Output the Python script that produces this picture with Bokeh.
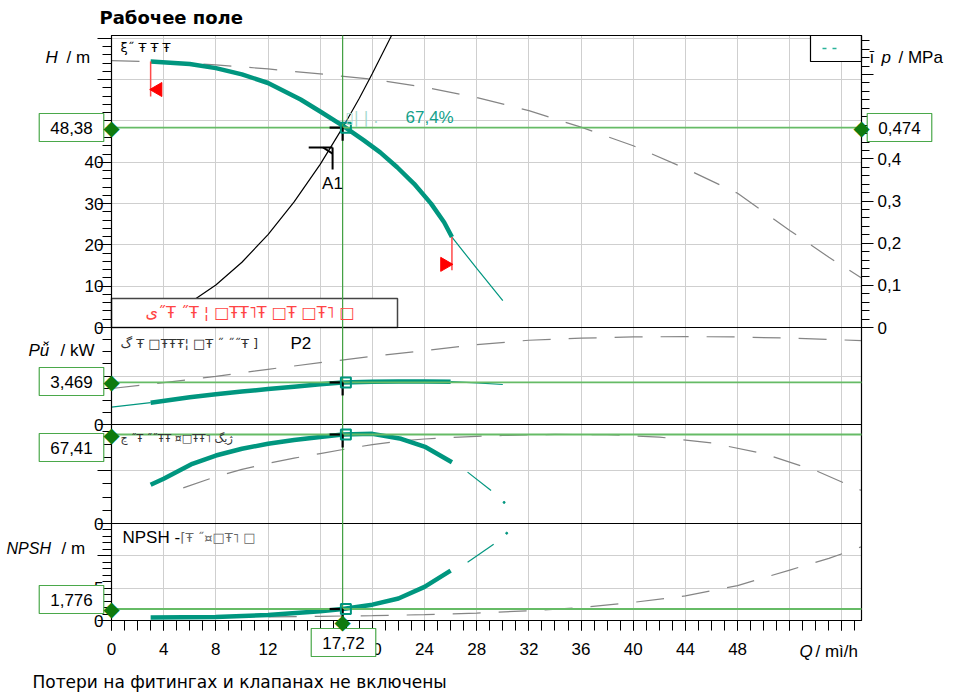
from bokeh.plotting import figure
from bokeh.models import Range1d, LinearAxis, FixedTicker, Label, Grid
from bokeh.embed import file_html
from bokeh.resources import INLINE

# ---------------- data ----------------
Q_OP, H_OP, DP_OP, P_OP, ETA_OP, NPSH_OP = 17.72, 48.38, 0.474, 3.469, 67.41, 1.776
ETA_LABEL = "67,4%"

q_head = [3, 6, 8, 10, 12, 14.5, 16, 17.72, 19.35, 20.6, 21.9, 23.2, 24.5, 25.5, 26.1]
head = [64.4, 63.8, 62.8, 61.3, 59.2, 55.2, 52.3, 48.9, 45.3, 42.4, 38.8, 34.8, 30.0, 25.5, 21.9]
q_head_ext = [26.1, 28, 30]
head_ext = [21.9, 14.3, 6.5]
q_head_max = [0, 4, 8, 12, 16, 20, 24, 28, 32, 36, 40, 44, 48, 52, 55, 57.5]
head_max = [64.6, 64.3, 63.6, 62.6, 61.4, 60.1, 58.2, 55.7, 52.5, 48.5, 44.0, 38.5, 32.5, 23.5, 17.0, 12.0]
q_sys = [4, 6, 8, 10, 12, 14, 16, 17.72, 19, 20, 21.47]
h_sys = [2.9, 6.0, 10.3, 15.8, 22.5, 30.4, 39.5, 48.38, 55.5, 61.5, 70.7]

q_pow_lead = [0, 3]
pow_lead = [1.43, 1.80]
q_pow = [3, 6, 8, 10, 12, 14, 16, 17.72, 20, 22, 24, 26]
pow2 = [1.80, 2.25, 2.50, 2.72, 2.92, 3.12, 3.32, 3.469, 3.53, 3.55, 3.55, 3.53]
q_pow_ext = [26, 28, 30]
pow_ext = [3.53, 3.43, 3.30]
q_pow_max = [0, 4, 8, 12, 16, 20, 24, 28, 32, 36, 40, 44, 48, 52, 57.5]
pow_max = [2.97, 3.45, 3.97, 4.55, 5.10, 5.62, 6.10, 6.58, 6.95, 7.12, 7.22, 7.25, 7.22, 7.12, 6.92]

q_eta = [3, 4, 6.2, 8, 10, 12, 14, 16, 17.72, 20, 22.2, 24.1, 26.1]
eta = [29.3, 33.9, 45.2, 51.5, 56.6, 60.4, 63.3, 65.6, 67.41, 67.9, 64.2, 57.8, 46.4]
q_eta_ext = [27.3, 29.1]
eta_ext = [38.9, 25.0]
q_eta_dot, eta_dot = [30.1], [16.0]
q_eta_max = [5.5, 8, 10, 12, 14, 16, 18, 20, 22, 24, 26, 28, 30, 34, 38, 42, 46, 50, 54, 57.5]
eta_max = [27, 35.5, 41, 45.5, 49.5, 53, 56.5, 59.8, 62.3, 64, 65.2, 66, 66.7, 67.5, 67.3, 65.5, 61, 53, 40, 25]

q_npsh = [3, 8, 12, 16, 17.72, 20, 22, 24, 26]
npsh = [0.46, 0.55, 0.85, 1.42, 1.776, 2.45, 3.4, 5.2, 7.7]
q_npsh_ext = [27.3, 29.3]
npsh_ext = [9.0, 11.8]
q_npsh_dot, npsh_dot = [30.3], [13.5]
q_npsh_max = [5, 12, 16, 20, 24, 28, 32, 36, 40, 44, 48, 52, 55, 57.5]
npsh_max = [0.46, 0.55, 0.65, 0.75, 0.9, 1.15, 1.5, 2.0, 2.8, 3.8, 5.4, 7.8, 9.6, 11.4]

Q_TICKS = [0, 4, 8, 12, 16, 20, 24, 28, 32, 36, 40, 44, 48, 52, 56]
Q_TICK_LABELS = ["0", "4", "8", "12", "16", "20", "24", "28", "32", "36", "40", "44", "48", "", ""]
H_TICKS = [0, 10, 20, 30, 40, 50, 60, 70]
H_TICK_LABELS = ["0", "10", "20", "30", "40", "50", "", ""]
DP_TICKS = [0, 0.1, 0.2, 0.3, 0.4, 0.5, 0.6]
DP_TICK_LABELS = ["0", "0,1", "0,2", "0,3", "0,4", "", ""]

TXT_HEAD = "ξ˝ Ŧ Ŧ Ŧ"
TXT_WARN = "ى˝Ŧ ˝Ŧ ¦ □ŦŦ˥Ŧ  □Ŧ  □Ŧ˥  □"
TXT_POW = "گ Ŧ □ŦŦŦ¦ □Ŧ  ˝  ˝˝Ŧ ]"
TXT_ETA = "ڃ  ˝Ŧ  ˝˝ŦŦ ¤□ŦŦ˥  ژیگ"
TXT_NPSH = "⌈Ŧ ˝¤□Ŧ˥  □"
TXT_ETA_PRE = "▯|   |   ."

# ---------------- geometry / styles ----------------
TEAL = "#00967f"
GRAY = "#858585"
GREEN_V = "#3f9f3f"
GREEN_H = "#66bb66"
DIAMOND = "#0e7a0e"
GRID = "#cfcfcf"
FONT = "Liberation Sans"
CANVAS_W, CANVAS_H = 952, 692
FRAME_L, FRAME_R, FRAME_T, FRAME_B = 111, 861, 35, 620   # chart area on the page
Q_MAX = 57.5
SX = (FRAME_R - FRAME_L) / Q_MAX
FRAME_H = FRAME_B - FRAME_T
PANELS = {  # value range, pixel band above chart bottom
    "head": (0.0, 70.7, 293, 585),
    "power": (0.0, 8.0, 196, 293),
    "eta": (0.0, 75.0, 97, 196),
    "npsh": (0.0, 15.0, 0, 97),
}


def qx(xpx):
    return (xpx - FRAME_L) / SX


def scale(name):
    v0, v1, b0, b1 = PANELS[name]
    return (b1 - b0) / (v1 - v0)


def make_range(name):
    v0, v1, b0, b1 = PANELS[name]
    s = scale(name)
    return Range1d(v0 + (FRAME_B - CANVAS_H - b0) / s, v0 + (FRAME_B - b0) / s)


def to_px(name, v):
    v0, v1, b0, b1 = PANELS[name]
    return round(b0 + (v - v0) * scale(name), 2)


def yv(name, ypx):
    v0, v1, b0, b1 = PANELS[name]
    return v0 + ((FRAME_B - ypx) - b0) / scale(name)


p = figure(width=CANVAS_W, height=CANVAS_H,
           x_range=Range1d(qx(0), qx(CANVAS_W)), y_range=Range1d(FRAME_B - CANVAS_H, FRAME_B),
           x_axis_location=None, y_axis_location=None,
           output_backend="svg", toolbar_location=None, min_border=0)
p.outline_line_color = None
p.background_fill_color = "white"
p.border_fill_color = "white"
p.center = [r for r in p.center if not isinstance(r, Grid)]
for name in PANELS:
    p.extra_y_ranges[name] = make_range(name)
hr = p.extra_y_ranges["head"]
ratio = DP_OP / H_OP
p.extra_y_ranges["dp"] = Range1d(hr.start * ratio, hr.end * ratio)
DP_TOP = PANELS["head"][1] * ratio

# ---- left axis (one axis for the four stacked panels) ----
major, labels, minor = [], {}, []


def add_major(name, v, lab):
    pos = to_px(name, v)
    major.append(pos)
    labels[pos] = lab


for v, lab in zip(H_TICKS, H_TICK_LABELS):
    add_major("head", v, lab)
for v in range(2, 70, 2):
    if v % 10:
        minor.append(to_px("head", v))
add_major("power", 0, "0")
add_major("power", 4, "4")
for v in range(1, 8):
    if v != 4:
        minor.append(to_px("power", v))
add_major("eta", 0, "0")
add_major("eta", 40, "")
for v in range(10, 80, 10):
    if v != 40:
        minor.append(to_px("eta", v))
add_major("npsh", 0, "0")
add_major("npsh", 5, "5")
add_major("npsh", 10, "")
for v in range(1, 15):
    if v % 5:
        minor.append(to_px("npsh", v))

ya = LinearAxis(fixed_location=0, bounds=(0, FRAME_H), ticker=FixedTicker(ticks=major, minor_ticks=minor),
                major_label_overrides=labels)
p.add_layout(ya, "left")

dp_axis = LinearAxis(y_range_name="dp", fixed_location=Q_MAX, bounds=(0, DP_TOP),
                     ticker=FixedTicker(ticks=DP_TICKS, minor_ticks=[round(0.02 * i, 2) for i in range(1, 35) if i % 5]),
                     major_label_overrides=dict(zip(DP_TICKS, DP_TICK_LABELS)))
p.add_layout(dp_axis, "right")

xa = LinearAxis(fixed_location=0, bounds=(0, Q_MAX),
                ticker=FixedTicker(ticks=Q_TICKS, minor_ticks=list(range(0, 58))),
                major_label_overrides=dict(zip(Q_TICKS, Q_TICK_LABELS)))
p.add_layout(xa, "below")

for ax, mj, mn in ((ya, 14, 9), (dp_axis, 12, 8), (xa, 10, 10)):
    ax.axis_line_color = "black"
    ax.major_tick_line_color = "black"
    ax.minor_tick_line_color = "black"
    ax.major_tick_in = 0
    ax.minor_tick_in = 0
    ax.major_tick_out = mj
    ax.minor_tick_out = mn
    ax.major_label_text_font = FONT
    ax.major_label_text_font_size = "17px"
    ax.major_label_text_color = "black"
ya.major_label_standoff = -6
dp_axis.major_label_standoff = 4
xa.major_label_standoff = 12

# ---- grids (limited to the chart area) ----
p.add_layout(Grid(dimension=0, ticker=FixedTicker(ticks=Q_TICKS[1:]), cross_bounds=(0, FRAME_H),
                  grid_line_color=GRID))
for name, ticks in (("head", H_TICKS[1:]), ("power", [4]), ("eta", [40]), ("npsh", [5, 10])):
    p.add_layout(Grid(dimension=1, y_range_name=name, ticker=FixedTicker(ticks=ticks),
                      cross_bounds=(0, Q_MAX), grid_line_color=GRID))

# ---- head panel ----
p.line(q_head_max, head_max, y_range_name="head", line_color=GRAY, line_width=1.2, line_dash="28 18")
p.line(q_sys, h_sys, y_range_name="head", line_color="black", line_width=1.2)
p.quad(left=[0], right=[qx(397)], bottom=[0], top=[yv("head", 298)], y_range_name="head",
       fill_color="white", line_color="#444444", line_width=1.5)
p.line(q_head_ext, head_ext, y_range_name="head", line_color=TEAL, line_width=1.2)
p.line(q_head, head, y_range_name="head", line_color=TEAL, line_width=4.5, line_join="round")
d_h = 35 / scale("head")
p.segment(x0=[q_head[0], q_head[-1]], y0=[head[0], head[-1]], x1=[q_head[0], q_head[-1]],
          y1=[head[0] - d_h, head[-1] - d_h * 0.95], y_range_name="head", line_color="#ff4a4a", line_width=1.5)
p.scatter(x=[q_head[0] + 0.55], y=[head[0] - d_h * 0.8], y_range_name="head", marker="triangle",
          angle=1.5708, size=14, fill_color="red", line_color="red")
p.scatter(x=[q_head[-1] - 0.55], y=[head[-1] - d_h * 0.78], y_range_name="head", marker="triangle",
          angle=-1.5708, size=14, fill_color="red", line_color="red")
p.quad(left=[qx(810)], right=[Q_MAX], bottom=[yv("head", 61)], top=[PANELS["head"][1]], y_range_name="head",
       fill_color="white", line_color="black", line_width=1.2)
p.segment(x0=[qx(822)], y0=[yv("head", 48)], x1=[qx(837)], y1=[yv("head", 48)], y_range_name="head",
          line_color="#2bb39a", line_width=1.5, line_dash="4 6")

# ---- power panel ----
p.line(q_pow_max, pow_max, y_range_name="power", line_color=GRAY, line_width=1.2, line_dash="28 18")
p.line(q_pow_lead, pow_lead, y_range_name="power", line_color=TEAL, line_width=1.2)
p.line(q_pow_ext, pow_ext, y_range_name="power", line_color=TEAL, line_width=1.2)
p.line(q_pow, pow2, y_range_name="power", line_color=TEAL, line_width=4.5, line_join="round")

# ---- efficiency panel ----
p.line(q_eta_max, eta_max, y_range_name="eta", line_color=GRAY, line_width=1.2, line_dash="28 18")
p.line(q_eta_ext, eta_ext, y_range_name="eta", line_color=TEAL, line_width=1.2)
p.scatter(q_eta_dot, eta_dot, y_range_name="eta", size=2, color=TEAL)
p.line(q_eta, eta, y_range_name="eta", line_color=TEAL, line_width=4.5, line_join="round")

# ---- NPSH panel ----
p.line(q_npsh_max, npsh_max, y_range_name="npsh", line_color=GRAY, line_width=1.2, line_dash="28 18")
p.line(q_npsh_ext, npsh_ext, y_range_name="npsh", line_color=TEAL, line_width=1.2)
p.scatter(q_npsh_dot, npsh_dot, y_range_name="npsh", size=2, color=TEAL)
p.line(q_npsh, npsh, y_range_name="npsh", line_color=TEAL, line_width=4.5, line_join="round")

# ---- chart border and panel separators ----
p.quad(left=[0], right=[Q_MAX], bottom=[0], top=[FRAME_H], fill_color=None, line_color="black", line_width=1.2)
for name in ("head", "power", "eta"):
    p.segment(x0=[0], y0=[0], x1=[Q_MAX], y1=[0], y_range_name=name, line_color="black", line_width=1.2)

# ---- duty point cross-hair ----
p.segment(x0=[Q_OP], y0=[0], x1=[Q_OP], y1=[FRAME_H], line_color=GREEN_V, line_width=1.2)
for name, val in (("head", H_OP), ("power", P_OP), ("eta", ETA_OP), ("npsh", NPSH_OP)):
    p.segment(x0=[0], y0=[val], x1=[Q_MAX], y1=[val], y_range_name=name, line_color=GREEN_H, line_width=1.8)
    d = 13 / scale(name)
    p.segment(x0=[Q_OP - 1.0, Q_OP], y0=[val, val], x1=[Q_OP, Q_OP], y1=[val, val - d],
              y_range_name=name, line_color="black", line_width=2.2)
    p.scatter(x=[Q_OP + 0.25], y=[val], y_range_name=name, marker="square", size=10,
              fill_color=None, line_color=TEAL, line_width=2)

# system curve label A1
p.segment(x0=[Q_OP - 2.6, Q_OP - 1.5, Q_OP - 0.77], y0=[H_OP - 4.8, H_OP - 4.8, H_OP - 4.8],
          x1=[Q_OP - 0.77, Q_OP - 0.77, Q_OP - 0.77], y1=[H_OP - 4.8, H_OP - 6.3, H_OP - 10.1],
          y_range_name="head", line_color="black", line_width=2)


def lab(text, xpx, name, ypx, size="17px", color="black", align="left", style="normal", font=FONT, **kw):
    p.add_layout(Label(x=qx(xpx), y=yv(name, ypx), y_range_name=name, text=text, text_font=font,
                       text_font_size=size, text_color=color, text_align=align, text_baseline="middle",
                       text_font_style=style, **kw))


lab("A1", 332, "head", 183, align="center")
lab(TXT_ETA_PRE, 345, "head", 117, size="15px", color="#9fd8cc", font="DejaVu Sans")
lab(ETA_LABEL, 405, "head", 117, color="#13a08a")

# panel captions
lab(TXT_HEAD, 120, "head", 47, size="13px", font="DejaVu Sans")
lab(TXT_WARN, 145, "head", 312, size="16px", color="#ff4545", font="DejaVu Sans")
lab(TXT_POW, 120, "power", 343, size="13px", color="#333333", font="DejaVu Sans")
lab("P2", 290, "power", 343)
lab(TXT_ETA, 120, "eta", 438, size="11px", color="#333333", font="DejaVu Sans")
lab("NPSH -", 122, "npsh", 537)
lab(TXT_NPSH, 180, "npsh", 537, size="13px", color="#666666", font="DejaVu Sans")

# axis titles
lab("H", 45, "head", 57, style="italic")
lab("/ m", 66, "head", 57)
lab("Pǚ", 28, "power", 350, style="italic")
lab("/ kW", 60, "power", 350)
lab("NPSH", 6, "npsh", 548, size="16px", style="italic")
lab("/ m", 61, "npsh", 548)
lab("ī", 869, "head", 57)
lab("p", 881, "head", 57, style="italic")
lab("/ MPa", 898, "head", 57)
lab("Q", 799, "npsh", 651, style="italic")
lab("/ mì/h", 815, "npsh", 651)

# value boxes and diamonds
box = dict(border_line_color="#4aa84a", border_line_width=1.2, background_fill_color="white",
           padding=dict(left=11, right=11, top=8, bottom=8))
lab("48,38", 71, "head", 127, align="center", **box)
lab("0,474", 899, "head", 127, align="center", **box)
lab("3,469", 71, "power", 381, align="center", **box)
lab("67,41", 71, "eta", 447, align="center", **box)
lab("1,776", 71, "npsh", 599, align="center", **box)
lab("17,72", 343, "npsh", 642, align="center", **box)
for xpx, name, ypx in ((111, "head", 127), (861, "head", 127), (111, "power", 381),
                       (111, "eta", 434), (111, "npsh", 608.5), (342, "npsh", 621)):
    lab("◆", xpx, name, ypx, size="21px", color=DIAMOND, align="center", font="DejaVu Sans")

# title and footnote
lab("Рабочее поле", 99, "head", 17, size="18px", style="bold", font="DejaVu Sans")
lab("Потери на фитингах и клапанах не включены", 32, "npsh", 681, size="17px", font="DejaVu Sans")

open("out.html", "w").write(file_html(p, INLINE))
